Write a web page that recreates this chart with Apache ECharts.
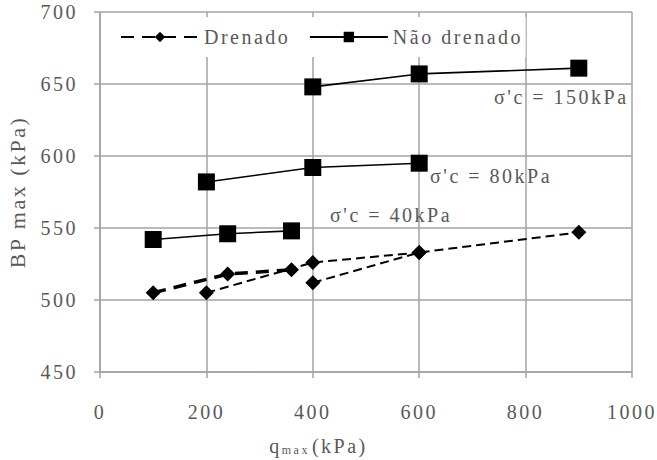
<!DOCTYPE html>
<html>
<head>
<meta charset="utf-8">
<script src="https://cdn.jsdelivr.net/npm/echarts@6/dist/echarts.min.js"></script>
<style>
  html, body { margin: 0; padding: 0; background: #fff; }
  #chart { width: 657px; height: 460px; }
  /* the source figure uses loosely spaced type */
  #chart text { letter-spacing: 2.5px; }
</style>
</head>
<body>
<div id="chart"></div>
<script>
// q max (kPa) for each test group
const qmax40 = [100, 240, 360];
const qmax80 = [200, 400, 600];
const qmax150 = [400, 600, 900];

// BP max (kPa), drained
const drenado40 = [505, 518, 521];
const drenado80 = [505, 526, 533];
const drenado150 = [512, 533, 547];

// BP max (kPa), undrained
const naoDrenado40 = [542, 546, 548];
const naoDrenado80 = [582, 592, 595];
const naoDrenado150 = [648, 657, 661];

const labels = ["σ'c = 40kPa", "σ'c = 80kPa", "σ'c = 150kPa"];

function pairs(xs, ys) {
    return xs.map((x, i) => [x, ys[i]]);
}

const txt = '#595959';
const gridCol = '#a3a3a3';
const font = 'Liberation Serif';

let myChart = echarts.init(document.getElementById('chart'), null, {renderer: 'svg'});

function drained(name, xs, ys, thick) {
    return {
        name: name,
        type: 'line',
        data: pairs(xs, ys),
        symbol: 'diamond',
        symbolSize: 15,
        itemStyle: {color: '#000'},
        lineStyle: thick
            ? {color: '#000', width: 3.5, type: [13, 8]}
            : {color: '#000', width: 2, type: [9, 5]},
        z: 3
    };
}

function undrained(name, xs, ys) {
    return {
        name: name,
        type: 'line',
        data: pairs(xs, ys),
        symbol: 'rect',
        symbolSize: 17,
        itemStyle: {color: '#000'},
        lineStyle: {color: '#000', width: 1.6},
        z: 3
    };
}

let option = {
    animation: false,
    textStyle: {fontFamily: font},
    grid: {left: 100, right: 25, top: 12, bottom: 88, outerBoundsMode: 'none'},
    legend: {
        data: ['Drenado', 'Não drenado'],
        left: 104,
        top: 17,
        padding: [10, 30, 10, 16],
        backgroundColor: '#fff',
        itemWidth: 78,
        itemHeight: 13,
        itemGap: 36,
        textStyle: {fontFamily: font, fontSize: 20, color: txt}
    },
    xAxis: {
        type: 'value',
        min: 0,
        max: 1000,
        interval: 200,
        name: '{q|q}{s|max}{k|(kPa)}',
        nameLocation: 'middle',
        nameGap: 64,
        nameTextStyle: {
            padding: [0, 100, 0, 0],
            rich: {
                q: {fontFamily: font, fontSize: 20, color: txt},
                s: {fontFamily: font, fontSize: 12, color: txt, verticalAlign: 'bottom', padding: [8, 12, 0, 5]},
                k: {fontFamily: font, fontSize: 20, color: txt}
            }
        },
        axisLine: {lineStyle: {color: gridCol, width: 1.5}},
        axisTick: {show: true, length: 6, lineStyle: {color: gridCol, width: 1.5}},
        axisLabel: {margin: 30, fontFamily: font, fontSize: 20, color: txt, formatter: v => String(v)},
        splitLine: {lineStyle: {color: gridCol, width: 1.5}}
    },
    yAxis: {
        type: 'value',
        min: 450,
        max: 700,
        interval: 50,
        name: 'BP max (kPa)',
        nameLocation: 'middle',
        nameGap: 72,
        nameTextStyle: {fontFamily: font, fontSize: 22, color: txt},
        axisLine: {show: true, lineStyle: {color: gridCol, width: 1.5}},
        axisTick: {show: true, length: 6, lineStyle: {color: gridCol, width: 1.5}},
        axisLabel: {margin: 22, fontFamily: font, fontSize: 20, color: txt, formatter: v => String(v)},
        splitLine: {lineStyle: {color: gridCol, width: 1.5}}
    },
    graphic: [
        {type: 'text', left: 330, top: 205, style: {text: labels[0], font: '20px "Liberation Serif"', fill: txt}, z: 10},
        {type: 'text', left: 430, top: 166, style: {text: labels[1], font: '20px "Liberation Serif"', fill: txt}, z: 10},
        {type: 'text', left: 494, top: 87, style: {text: labels[2], font: '20px "Liberation Serif"', fill: txt}, z: 10}
    ],
    series: [
        drained('Drenado', qmax40, drenado40, true),
        drained('Drenado 80', qmax80, drenado80, false),
        drained('Drenado 150', qmax150, drenado150, false),
        undrained('Não drenado', qmax40, naoDrenado40),
        undrained('Não drenado 80', qmax80, naoDrenado80),
        undrained('Não drenado 150', qmax150, naoDrenado150)
    ]
};

myChart.setOption(option);
</script>
</body>
</html>
